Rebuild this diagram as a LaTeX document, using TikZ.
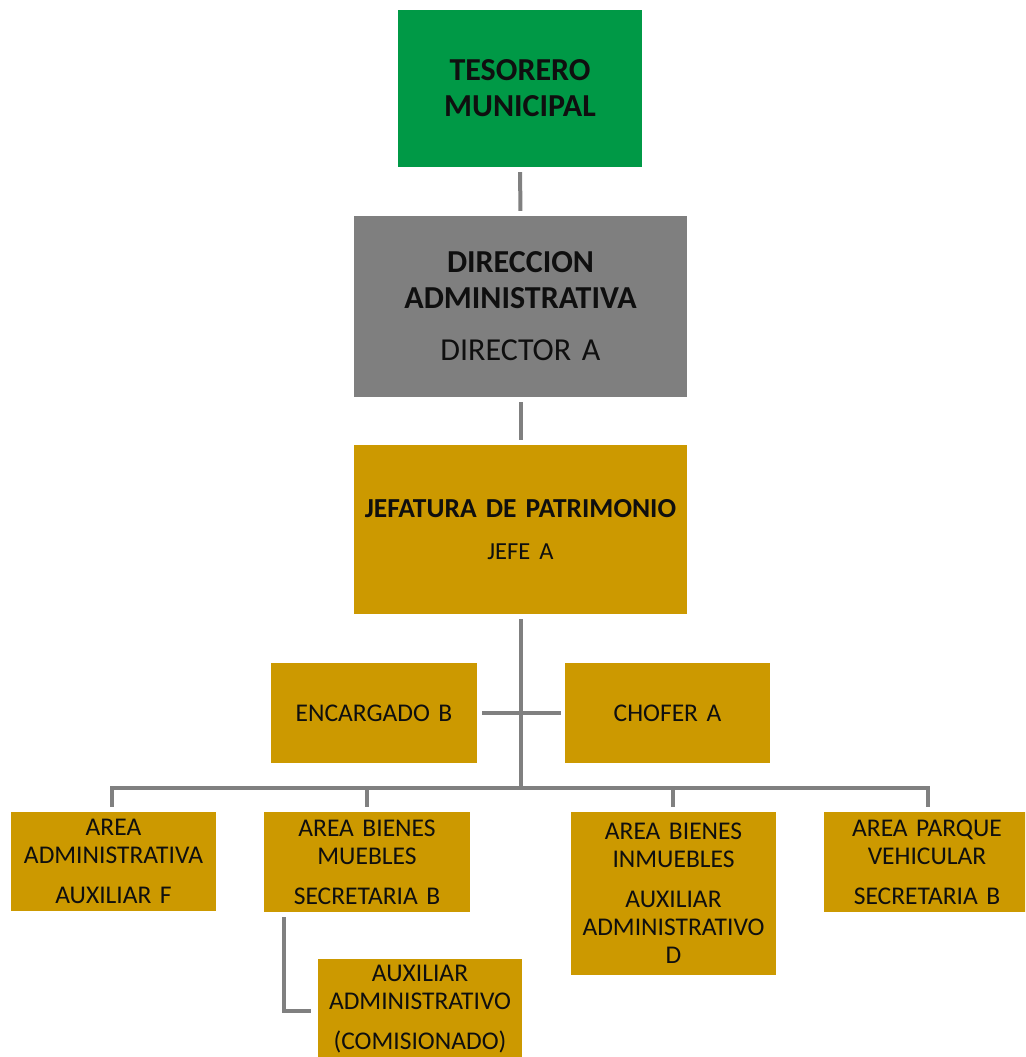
\documentclass[tikz,border=0pt]{standalone}
\usepackage{fontspec}
\setmainfont{Carlito}
\usetikzlibrary{calc}
\definecolor{tesgreen}{RGB}{0,153,70}
\definecolor{dirgray}{RGB}{127,127,127}
\definecolor{patgold}{RGB}{204,153,0}
\definecolor{linkgray}{RGB}{128,128,128}
\definecolor{ink}{RGB}{15,15,15}
\begin{document}
\begin{tikzpicture}[x=1pt,y=-1pt,
  box/.style={rectangle, inner sep=0pt, align=center, text=ink},
  unit/.style={box, fill=patgold, text width=200pt, minimum width=205pt, minimum height=100pt,
    font=\fontsize{25.5}{28}\selectfont},
  link/.style={draw=linkgray, line width=4pt, line join=miter}
]
\clip (0,0) rectangle (1025,1057);
\fill[white] (0,0) rectangle (1025,1057);

% top of the hierarchy
\node[box, fill=tesgreen, text width=240pt, minimum width=244pt, minimum height=157pt,
  font=\fontsize{32}{36}\selectfont\bfseries] (tes) at (520,88.5) {TESORERO\\MUNICIPAL};
\node[box, fill=dirgray, text width=328pt, minimum width=333pt, minimum height=181pt,
  font=\fontsize{32}{36}\selectfont] (dir) at (520.5,306.5)
  {\textbf{DIRECCION}\\\textbf{ADMINISTRATIVA}\\[16pt]DIRECTOR A};
\node[box, fill=patgold, text width=330pt, minimum width=333pt, minimum height=169pt,
  font=\fontsize{27.5}{30}\selectfont] (jef) at (520.5,529.5)
  {\textbf{JEFATURA DE PATRIMONIO}\\[12pt]{\fontsize{24.5}{30}\selectfont JEFE A}};

% staff positions
\node[unit, minimum width=206pt] (enc) at (374,713) {ENCARGADO B};
\node[unit] (cho) at (667.5,713) {CHOFER A};

% areas
\node[unit, minimum height=99pt] (adm) at (113.5,861.5) {AREA\\ADMINISTRATIVA\\[12pt]AUXILIAR F};
\node[unit, minimum width=206pt] (mue) at (367,862) {AREA BIENES\\MUEBLES\\[12pt]SECRETARIA B};
\node[unit, minimum height=163pt] (inm) at (673.5,893.5)
  {AREA BIENES\\INMUEBLES\\[12pt]AUXILIAR\\ADMINISTRATIVO\\D};
\node[unit, minimum width=206pt] (veh) at (927,862) {AREA PARQUE\\VEHICULAR\\[12pt]SECRETARIA B};
\node[unit, minimum width=204pt] (aux) at (420,1009)
  {AUXILIAR\\ADMINISTRATIVO\\[12pt](COMISIONADO)};

% connectors
\coordinate (bus) at (520.5,788);
\draw[link, shorten <=5pt, shorten >=5pt] (tes.south) -- (dir.north);
\draw[link, shorten <=5pt, shorten >=5pt] (dir.south) -- (jef.north);
\draw[link, shorten <=5pt] (jef.south) -- (bus);
\draw[link, shorten <=5pt, shorten >=4pt] (enc.east) -- (cho.west);
\draw[link, shorten >=5pt] (bus) -| (adm.north -| 112,0);
\draw[link, shorten >=5pt] (bus) -| (mue.north);
\draw[link, shorten >=5pt] (bus) -| (inm.north -| 673,0);
\draw[link, shorten >=5pt] (bus) -| (veh.north -| 928,0);
\draw[link, shorten <=5pt, shorten >=7pt] ($(mue.south west)+(20,0)$) |- ($(aux.west)+(0,2)$);
\end{tikzpicture}
\end{document}
